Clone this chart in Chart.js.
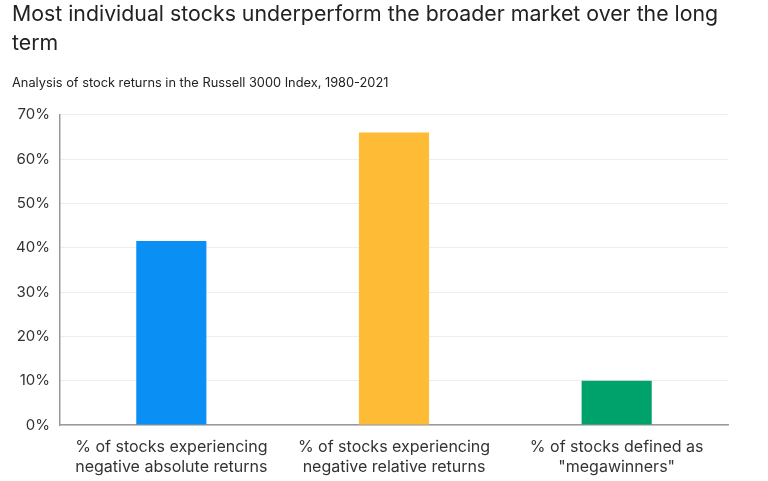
<!DOCTYPE html>
<html>
<head>
<meta charset="utf-8">
<script src="https://cdn.jsdelivr.net/npm/chart.js@4/dist/chart.umd.min.js"></script>
<style>
  html, body { margin: 0; padding: 0; background: #fff; }
  #wrap { position: relative; width: 768px; height: 481px; }
</style>
</head>
<body>
<div id="wrap"><canvas id="c"></canvas></div>
<script>
const titleLines = ["Most individual stocks underperform the broader market over the long", "term"];
const subtitleText = "Analysis of stock returns in the Russell 3000 Index, 1980-2021";
const categories = [
  ["% of stocks experiencing", "negative absolute returns"],
  ["% of stocks experiencing", "negative relative returns"],
  ["% of stocks defined as", "\"megawinners\""]
];
const values = [41.5, 66, 10];
const barColors = ["#0A90F5", "#FDBB36", "#00A26B"];
const yTicks = [0, 10, 20, 30, 40, 50, 60, 70];

const FONT = "Inter, Roboto, sans-serif";

new Chart(document.getElementById('c'), {
  type: 'bar',
  data: {
    labels: categories,
    datasets: [{
      data: values,
      backgroundColor: barColors,
      borderWidth: 0,
      categoryPercentage: 1,
      barPercentage: 0.315
    }]
  },
  options: {
    responsive: true,
    maintainAspectRatio: false,
    animation: false,
    layout: { padding: { left: 12, right: 40, top: 0, bottom: -8 } },
    plugins: {
      legend: { display: false },
      tooltip: { enabled: false },
      title: {
        display: true,
        text: titleLines,
        align: 'start',
        color: '#222',
        font: { family: FONT, size: 21.3, weight: 'normal', lineHeight: 1.37 },
        padding: { top: 0, bottom: 17 }
      },
      subtitle: {
        display: true,
        text: subtitleText,
        align: 'start',
        color: '#222',
        font: { family: FONT, size: 12.8, weight: 'normal', lineHeight: 1.2 },
        padding: { top: 0, bottom: 24 }
      }
    },
    scales: {
      x: {
        grid: { display: false, drawTicks: false },
        border: { display: true, color: '#999', width: 1.5 },
        ticks: {
          color: '#333',
          font: { family: FONT, size: 16, lineHeight: 1.25 },
          padding: 12,
          maxRotation: 0,
          autoSkip: false
        }
      },
      y: {
        min: 0,
        max: 70,
        afterBuildTicks: (axis) => { axis.ticks = yTicks.map(v => ({ value: v })); },
        afterFit: (axis) => { axis.width = 48; },
        grid: { color: '#eeeeee', drawTicks: false, lineWidth: 1 },
        border: { display: true, color: '#999', width: 1.5 },
        ticks: {
          color: '#333',
          font: { family: FONT, size: 15 },
          padding: 10,
          callback: (v) => v + '%'
        }
      }
    }
  }
});
</script>
</body>
</html>
